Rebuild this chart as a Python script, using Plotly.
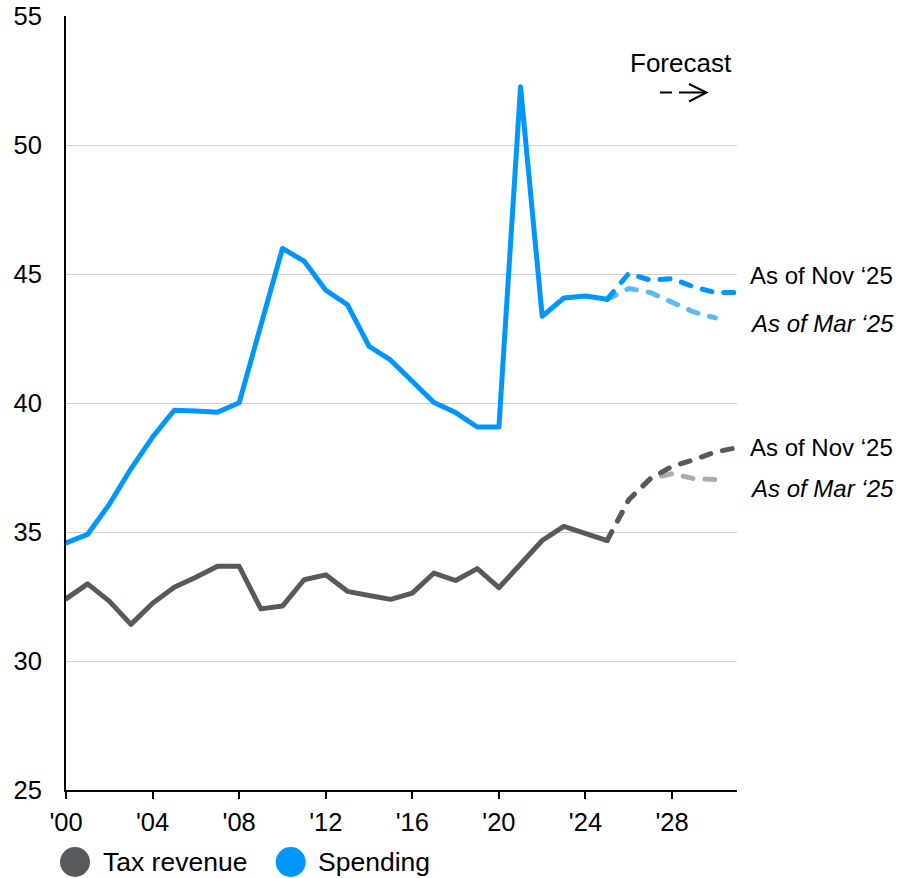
import plotly.graph_objects as go

years_hist = list(range(2000, 2026))
spending_hist = [34.58, 34.91, 36.07, 37.45, 38.68, 39.72, 39.69, 39.64, 40.01, 42.98,
                 45.99, 45.50, 44.37, 43.81, 42.20, 41.66, 40.82, 40.02, 39.63, 39.07,
                 39.07, 52.26, 43.36, 44.07, 44.15, 44.02]
tax_hist = [32.41, 32.99, 32.32, 31.42, 32.24, 32.86, 33.25, 33.67, 33.67, 32.02,
            32.13, 33.15, 33.34, 32.70, 32.54, 32.39, 32.63, 33.41, 33.12, 33.58,
            32.84, 33.77, 34.67, 35.22, 34.95, 34.67]

years_nov = list(range(2025, 2032))
spending_nov = [44.02, 45.02, 44.76, 44.82, 44.50, 44.28, 44.28]
tax_nov = [34.67, 36.25, 37.07, 37.54, 37.80, 38.10, 38.27]

years_mar = list(range(2025, 2031))
spending_mar = [44.02, 44.44, 44.28, 43.92, 43.53, 43.30]
tax_mar = [34.67, 36.25, 37.07, 37.26, 37.07, 37.03]

x_tickvals = [2000, 2004, 2008, 2012, 2016, 2020, 2024, 2028]
x_ticktext = ["'00", "'04", "'08", "'12", "'16", "'20", "'24", "'28"]
y_tickvals = [25, 30, 35, 40, 45, 50, 55]

BLUE = "#0096FA"
LBLUE = "#5DB9F5"
GRAY = "#575A5D"
LGRAY = "#AAACAE"
FONT = "Liberation Sans, Arial, sans-serif"
DASH = "10px,12px"
LW = 5

fig = go.Figure()
fig.add_trace(go.Scatter(x=years_mar, y=tax_mar, mode="lines",
                         line=dict(color=LGRAY, width=LW, dash=DASH), showlegend=False))
fig.add_trace(go.Scatter(x=years_nov, y=tax_nov, mode="lines",
                         line=dict(color=GRAY, width=LW, dash=DASH), showlegend=False))
fig.add_trace(go.Scatter(x=years_mar, y=spending_mar, mode="lines",
                         line=dict(color=LBLUE, width=LW, dash=DASH), showlegend=False))
fig.add_trace(go.Scatter(x=years_nov, y=spending_nov, mode="lines",
                         line=dict(color=BLUE, width=LW, dash=DASH), showlegend=False))
fig.add_trace(go.Scatter(x=years_hist, y=tax_hist, mode="lines",
                         line=dict(color=GRAY, width=LW), showlegend=False))
fig.add_trace(go.Scatter(x=years_hist, y=spending_hist, mode="lines",
                         line=dict(color=BLUE, width=LW), showlegend=False))

annotations = []
for text, yv, italic in [("As of Nov \u201825", 44.95, False), ("As of Mar \u201825", 43.1, True),
                         ("As of Nov \u201825", 38.29, False), ("As of Mar \u201825", 36.68, True)]:
    annotations.append(dict(x=1.016, xref="paper", y=yv, yref="y", xanchor="left", yanchor="middle",
                            text=f"<i>{text}</i>" if italic else text, showarrow=False,
                            font=dict(family=FONT, size=24, color="#000")))
annotations.append(dict(x=(680.5 - 66) / 671, xref="paper", y=1.0 - (63 - 16) / 774, yref="paper",
                        xanchor="center", yanchor="middle", text="Forecast", showarrow=False,
                        font=dict(family=FONT, size=26, color="#000")))
# legend labels
annotations.append(dict(x=(101 - 66) / 671, xref="paper", y=(790 - 862) / 774, yref="paper",
                        xanchor="left", yanchor="middle", text="Tax revenue", showarrow=False,
                        font=dict(family=FONT, size=26.5, color="#000")))
annotations.append(dict(x=(316 - 66) / 671, xref="paper", y=(790 - 862) / 774, yref="paper",
                        xanchor="left", yanchor="middle", text="Spending", showarrow=False,
                        font=dict(family=FONT, size=26.5, color="#000")))

def px_x(p):
    return (p - 66) / 671

def px_y(p):
    return (790 - p) / 774

shapes = []
for cx, col in [(75, GRAY), (290.7, BLUE)]:
    shapes.append(dict(type="circle", xref="paper", yref="paper",
                       xsizemode="pixel", ysizemode="pixel",
                       xanchor=px_x(cx), yanchor=px_y(862),
                       x0=-15, x1=15, y0=-15, y1=15,
                       fillcolor=col, line=dict(width=0)))
# forecast arrow
ay = px_y(92.5)
shapes.append(dict(type="line", xref="paper", yref="paper", x0=px_x(660), x1=px_x(672),
                   y0=ay, y1=ay, line=dict(color="#000", width=2)))
shapes.append(dict(type="line", xref="paper", yref="paper", x0=px_x(679), x1=px_x(705),
                   y0=ay, y1=ay, line=dict(color="#000", width=2)))
shapes.append(dict(type="path", xref="paper", yref="paper",
                   path=f"M {px_x(689)} {px_y(84)} L {px_x(706.5)} {ay} L {px_x(689)} {px_y(101.5)}",
                   line=dict(color="#000", width=2)))

fig.update_layout(
    width=898, height=878, autosize=False,
    margin=dict(l=66, r=161, t=16, b=88, pad=0, autoexpand=False),
    plot_bgcolor="white", paper_bgcolor="white",
    font=dict(family=FONT, size=25, color="#000"),
    showlegend=False,
    annotations=annotations,
    shapes=shapes,
    xaxis=dict(range=[2000, 2031], tickvals=x_tickvals, ticktext=x_ticktext, automargin=False,
               showgrid=False, zeroline=False, showline=True, linecolor="#000", linewidth=2,
               ticks="outside", ticklen=7, tickwidth=2, tickcolor="#000", ticklabelstandoff=1,
               tickfont=dict(family=FONT, size=25.5, color="#000")),
    yaxis=dict(range=[25, 55], tickvals=y_tickvals, showgrid=True, gridcolor="#D0D0D0",
               gridwidth=1, zeroline=False, showline=True, linecolor="#000", linewidth=2,
               ticks="", ticklabelstandoff=17, automargin=False,
               tickfont=dict(family=FONT, size=25.5, color="#000")),
)

post = ("document.body.style.margin='0';document.body.style.overflow='hidden';"
        "var d=document.getElementById('{plot_id}');d.style.position='absolute';"
        "d.style.left='0px';d.style.top='0px';"
        "var st=document.createElement('style');"
        "st.textContent='.scatterlayer path.js-line{stroke-linecap:round !important;stroke-linejoin:round !important;}';"
        "document.head.appendChild(st);"
        "document.querySelectorAll('.scatterlayer path.js-line').forEach(function(p){"
        "p.style.strokeLinecap='round';p.style.strokeLinejoin='round';});")
fig.write_html("out.html", post_script=post, config={"responsive": False, "displayModeBar": False})
